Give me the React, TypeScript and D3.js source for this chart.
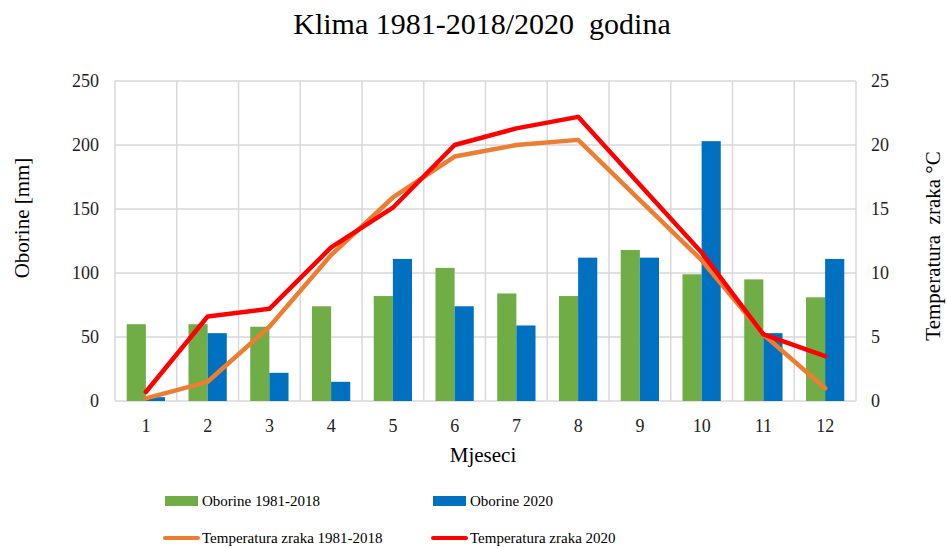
import React from 'react';
import * as d3 from 'd3';

// monthly data
const months = ['1', '2', '3', '4', '5', '6', '7', '8', '9', '10', '11', '12'];
const oborine8118 = [60, 60, 58, 74, 82, 104, 84, 82, 118, 99, 95, 81];
const oborine2020 = [3, 53, 22, 15, 111, 74, 59, 112, 112, 203, 53, 111];
const temp8118 = [0.2, 1.5, 5.8, 11.4, 15.9, 19.1, 20.0, 20.4, 15.7, 11.0, 5.2, 1.0];
const temp2020 = [0.7, 6.6, 7.2, 12.0, 15.1, 20.0, 21.3, 22.2, 16.9, 11.6, 5.2, 3.5];
const mmTicks = [0, 50, 100, 150, 200, 250];
const tempTicks = [0, 5, 10, 15, 20, 25];

const W = 947;
const H = 548;
const margin = { left: 115, right: 856, top: 81, bottom: 401 };
const FONT = "'Liberation Serif', 'Times New Roman', serif";

const GREEN = '#70AD47';
const BLUE = '#0070C0';
const ORANGE = '#ED7D31';
const RED = '#FF0000';
const GRID = '#d9d9d9';

export default function App() {
  const x = d3.scaleBand<string>().domain(months).range([margin.left, margin.right]).padding(0);
  const bw = x.bandwidth();
  const xSub = d3
    .scaleBand<string>()
    .domain(['a', 'b'])
    .range([bw * 0.19, bw * 0.81])
    .padding(0);
  const yMm = d3.scaleLinear().domain([0, 250]).range([margin.bottom, margin.top]);
  const yT = d3.scaleLinear().domain([0, 25]).range([margin.bottom, margin.top]);

  const cx = (m: string) => (x(m) as number) + bw / 2;
  const line = d3
    .line<number>()
    .x((_, i) => cx(months[i]))
    .y((d) => yT(d));

  return (
    <div style={{ position: 'absolute', left: 0, top: 0 }}>
      <svg width={W} height={H} style={{ display: 'block', background: '#fff', fontFamily: FONT }}>
        {/* title */}
        <text x={482} y={34} textAnchor="middle" fontSize={30} fill="#000" style={{ whiteSpace: 'pre' }}>
          {'Klima 1981-2018/2020  godina'}
        </text>

        {/* grid */}
        {mmTicks.map((t) => (
          <line key={'h' + t} x1={margin.left} x2={margin.right} y1={yMm(t)} y2={yMm(t)} stroke={GRID} strokeWidth={1.5} />
        ))}
        {months.map((m) => (
          <line key={'v' + m} x1={x(m)} x2={x(m)} y1={margin.top} y2={margin.bottom} stroke={GRID} strokeWidth={1.5} />
        ))}
        <line x1={margin.right} x2={margin.right} y1={margin.top} y2={margin.bottom} stroke={GRID} strokeWidth={1.5} />

        {/* bars */}
        {months.map((m, i) => (
          <g key={'b' + m} transform={`translate(${x(m)},0)`}>
            <rect x={xSub('a')} width={xSub.bandwidth()} y={yMm(oborine8118[i])} height={yMm(0) - yMm(oborine8118[i])} fill={GREEN} />
            <rect x={xSub('b')} width={xSub.bandwidth()} y={yMm(oborine2020[i])} height={yMm(0) - yMm(oborine2020[i])} fill={BLUE} />
          </g>
        ))}

        {/* temperature lines */}
        <path d={line(temp8118) || ''} fill="none" stroke={ORANGE} strokeWidth={4.5} strokeLinejoin="round" strokeLinecap="round" />
        <path d={line(temp2020) || ''} fill="none" stroke={RED} strokeWidth={4.5} strokeLinejoin="round" strokeLinecap="round" />

        {/* left axis */}
        {mmTicks.map((t) => (
          <text key={'lt' + t} x={99} y={yMm(t)} dy="0.35em" textAnchor="end" fontSize={18} fill="#222">
            {t}
          </text>
        ))}
        <text transform="translate(29,218) rotate(-90)" textAnchor="middle" fontSize={21} fill="#000">
          Oborine [mm]
        </text>

        {/* right axis */}
        {tempTicks.map((t) => (
          <text key={'rt' + t} x={871} y={yT(t)} dy="0.35em" textAnchor="start" fontSize={18} fill="#222">
            {t}
          </text>
        ))}
        <text transform="translate(940,246) rotate(-90)" textAnchor="middle" fontSize={21} fill="#000" style={{ whiteSpace: 'pre' }}>
          {'Temperatura  zraka °C'}
        </text>

        {/* x axis */}
        {months.map((m) => (
          <text key={'xt' + m} x={cx(m)} y={432} textAnchor="middle" fontSize={18} fill="#222">
            {m}
          </text>
        ))}
        <text x={483} y={462} textAnchor="middle" fontSize={21} fill="#000">
          Mjeseci
        </text>

        {/* legend */}
        <rect x={165} y={496} width={33} height={10} fill={GREEN} />
        <text x={202} y={506} fontSize={15} fill="#000">Oborine 1981-2018</text>
        <rect x={433} y={496} width={33} height={10} fill={BLUE} />
        <text x={470} y={506} fontSize={15} fill="#000">Oborine 2020</text>
        <line x1={165} x2={198} y1={538} y2={538} stroke={ORANGE} strokeWidth={4} strokeLinecap="round" />
        <text x={202} y={543} fontSize={15} fill="#000">Temperatura zraka 1981-2018</text>
        <line x1={433} x2={466} y1={538} y2={538} stroke={RED} strokeWidth={4} strokeLinecap="round" />
        <text x={470} y={543} fontSize={15} fill="#000">Temperatura zraka 2020</text>
      </svg>
    </div>
  );
}
